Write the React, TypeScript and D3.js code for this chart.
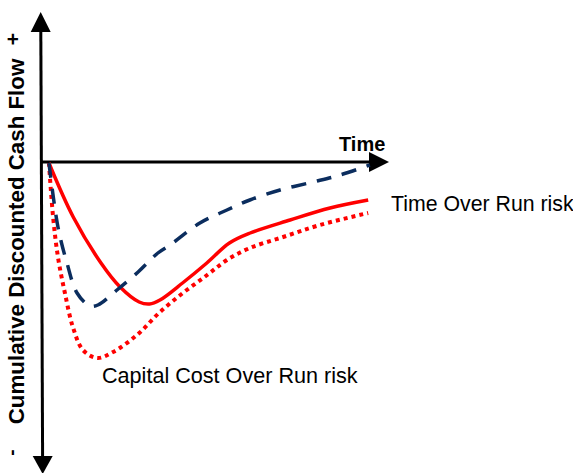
import React from "react";
import * as d3 from "d3";

// Time positions (0..100 along the time axis) and cumulative discounted cash flow
// (0 = break-even, negative = below the axis) for each scenario.
const baseTime = [2, 9, 17, 22.5, 28, 31, 34, 40.5, 47.5, 54, 60, 71.5, 83, 94];
const baseFlow = [-0.5, -27.5, -50.5, -62.5, -70, -71, -69, -60.5, -50.5, -40.5, -35.5, -29, -23, -19];

const timeOverrunTime = [2, 4.6, 7.2, 10.1, 13.8, 16.1, 21.6, 27.7, 33.4, 36.9, 45.5, 53.3, 59.9, 68.6, 78.1, 85.9, 94.5];
const timeOverrunFlow = [-0.5, -32.5, -50.5, -65.5, -72, -71.5, -64, -55, -45.5, -41.5, -30.5, -24, -19, -14, -10, -6.5, -1.5];

const costOverrunTime = [2, 3.2, 4.6, 6.6, 8.9, 11.8, 15.9, 20.5, 27.7, 33.7, 40.6, 47.6, 53.3, 59.9, 69.5, 80.1, 94];
const costOverrunFlow = [-0.5, -27.5, -47.5, -65.5, -82.5, -94, -98, -95, -86, -75.5, -65.5, -56.5, -49, -43, -37.5, -31.5, -25.5];

const yAxisTitle = "Cumulative Discounted Cash Flow";
const xAxisTitle = "Time";
const timeRiskLabel = "Time Over Run risk";
const costRiskLabel = "Capital Cost Over Run risk";

const W = 573;
const H = 473;
const FONT = "'Liberation Sans', Arial, sans-serif";

export default function App() {
  const x = d3.scaleLinear().domain([0, 100]).range([42, 389]);
  const y = d3.scaleLinear().domain([-100, 0]).range([362, 162]);

  const curve = d3
    .line<[number, number]>()
    .x((d) => x(d[0]))
    .y((d) => y(d[1]))
    .curve(d3.curveCatmullRom.alpha(0.5));

  const pts = (ts: number[], vs: number[]) =>
    ts.map((t, i) => [t, vs[i]] as [number, number]);

  const yAxisTopX = 40.7;
  const yAxisBotX = 42.7;
  const x0 = x(0);
  const yZero = y(0);

  return (
    <svg
      width={W}
      height={H}
      style={{ position: "absolute", left: 0, top: 0, background: "#fff" }}
    >
      {/* vertical axis with arrows at both ends */}
      <line x1={yAxisTopX + 0.1} y1={30} x2={yAxisBotX - 0.1} y2={458} stroke="#000" strokeWidth={3} />
      <polygon
        points={`${yAxisTopX},12 ${yAxisTopX - 10},32 ${yAxisTopX + 10},32`}
        fill="#000"
      />
      <polygon
        points={`${yAxisBotX},474 ${yAxisBotX - 10},456 ${yAxisBotX + 10},456`}
        fill="#000"
      />

      {/* horizontal time axis */}
      <line x1={x0 - 1} y1={yZero} x2={370} y2={yZero} stroke="#000" strokeWidth={3} />
      <polygon points={`389,${yZero} 369,${yZero - 10} 369,${yZero + 10}`} fill="#000" />

      {/* scenario curves */}
      <path
        d={curve(pts(costOverrunTime, costOverrunFlow)) as string}
        fill="none"
        stroke="#ff0000"
        strokeWidth={4}
        strokeDasharray="4 4"
      />
      <path
        d={curve(pts(baseTime, baseFlow)) as string}
        fill="none"
        stroke="#ff0000"
        strokeWidth={3.5}
      />
      <path
        d={curve(pts(timeOverrunTime, timeOverrunFlow)) as string}
        fill="none"
        stroke="#0b2d5e"
        strokeWidth={3.5}
        strokeDasharray="15 11"
      />

      {/* axis titles */}
      <text
        transform="translate(23.5,241.5) rotate(-90)"
        textAnchor="middle"
        fontFamily={FONT}
        fontWeight="bold"
        fontSize={22.3}
        fill="#000"
      >
        {yAxisTitle}
      </text>
      <text
        transform="translate(20,39) rotate(-90)"
        textAnchor="middle"
        fontFamily={FONT}
        fontWeight="bold"
        fontSize={21}
        fill="#000"
      >
        +
      </text>
      <text
        transform="translate(17.6,452.5) rotate(-90)"
        textAnchor="middle"
        fontFamily={FONT}
        fontWeight="bold"
        fontSize={19}
        fill="#000"
      >
        -
      </text>
      <text x={339} y={151} fontFamily={FONT} fontWeight="bold" fontSize={20} fill="#000">
        {xAxisTitle}
      </text>

      {/* curve annotations */}
      <text x={391} y={211} fontFamily={FONT} fontSize={21.3} fill="#000">
        {timeRiskLabel}
      </text>
      <text x={102} y={383} fontFamily={FONT} fontSize={21.6} fill="#000">
        {costRiskLabel}
      </text>
    </svg>
  );
}
